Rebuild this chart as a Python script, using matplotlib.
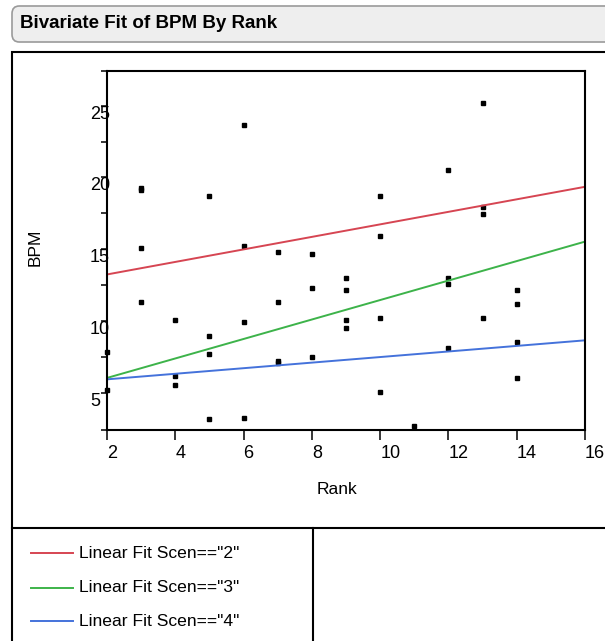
import numpy as np
import matplotlib
matplotlib.use('Agg')
from matplotlib import pyplot as plt
from matplotlib.patches import FancyBboxPatch, Rectangle
from matplotlib.lines import Line2D

plt.rcParams['font.family'] = ['Liberation Sans', 'DejaVu Sans']

# data
rank = [3, 3, 5, 6, 3, 6, 7, 8,
        13, 12, 10, 13, 13, 10,
        3, 8, 7, 4, 6, 5, 5, 7, 7, 8, 4, 4, 5, 6,
        9, 9, 9, 9, 12, 12, 14, 14, 10, 13, 12, 14, 14, 10, 11,
        2, 2]
bpm = [19.24, 19.10, 18.68, 23.65, 15.09, 15.21, 14.79, 14.67,
       25.18, 20.49, 18.68, 17.96, 17.43, 15.90,
       11.34, 12.31, 11.34, 10.09, 9.95, 8.98, 7.73, 7.22, 7.08, 7.47, 6.20, 5.53, 3.15, 3.28,
       13.00, 12.14, 10.09, 9.51, 13.00, 12.56, 12.14, 11.17, 10.23, 10.23, 8.13, 8.55, 6.06, 5.09, 2.72,
       7.87, 5.18]

fit_names = ['Linear Fit Scen=="2"', 'Linear Fit Scen=="3"', 'Linear Fit Scen=="4"']
fit_intercept = [12.37, 4.68, 5.55]
fit_slope = [0.436, 0.678, 0.194]
fit_colors = ['#d64552', '#3db34a', '#4472db']

x_ticks = [2, 4, 6, 8, 10, 12, 14, 16]
y_major = [5, 10, 15, 20, 25]
y_minor = [7.5, 12.5, 17.5, 22.5]

W, H = 605, 641
fig = plt.figure(figsize=(W / 100, H / 100), dpi=100)


def fx(x):
    return x / W


def fy(y):
    return 1 - y / H


# title bar
fig.patches.append(FancyBboxPatch((fx(12), fy(42)), fx(620) - fx(12), fy(6) - fy(42),
                                  boxstyle='round,pad=0,rounding_size=0.012',
                                  transform=fig.transFigure, facecolor='#eeeeee',
                                  edgecolor='#9a9a9a', linewidth=1.2, zorder=0))
fig.text(fx(20), fy(23), 'Bivariate Fit of BPM By Rank', fontsize=13.5, fontweight='bold',
         va='center', ha='left')

# outline of report box
fig.patches.append(Rectangle((fx(12), fy(660)), fx(620) - fx(12), fy(52) - fy(660),
                             transform=fig.transFigure, facecolor='none',
                             edgecolor='black', linewidth=1.5, zorder=0))
fig.lines.append(Line2D([fx(12), fx(620)], [fy(528), fy(528)], transform=fig.transFigure,
                        color='black', linewidth=1.5))
fig.lines.append(Line2D([fx(313), fx(313)], [fy(528), fy(660)], transform=fig.transFigure,
                        color='black', linewidth=1.5))

# plot area
ax = fig.add_axes([fx(107), fy(430), (585 - 107) / W, (430 - 71) / H])
ax.set_xlim(2, 16)
ax.set_ylim(2.41, 27.41)

ax.plot(rank, bpm, 's', color='black', markersize=2.4, zorder=2, clip_on=False)

xx = np.array([2, 16])
for b, m, c in zip(fit_intercept, fit_slope, fit_colors):
    ax.plot(xx, b + m * xx, color=c, linewidth=1.4, zorder=3)

for s in ax.spines.values():
    s.set_linewidth(1.5)
    s.set_zorder(5)

ax.set_xticks(x_ticks)
ax.set_xticklabels([str(t) for t in x_ticks], fontsize=13)
for lbl in ax.get_xticklabels():
    lbl.set_horizontalalignment('left')
ax.tick_params(axis='x', direction='out', length=7.5, width=1.1, pad=3)

ax.set_yticks(y_major + y_minor + [2.41, 27.41])
ax.set_yticklabels([])
ax.tick_params(axis='y', direction='out', length=4.3, width=1.1)
for v in y_major:
    ax.text(-0.0356, v, str(v), transform=ax.get_yaxis_transform(), ha='left', va='top',
            fontsize=13, zorder=1, clip_on=False)

fig.text(fx(337), fy(490), 'Rank', fontsize=12.5, ha='center', va='center')
fig.text(fx(35), fy(247), 'BPM', fontsize=12.5, ha='center', va='center', rotation=90)

# legend
leg_y = [553, 588, 621]
for name, c, y in zip(fit_names, fit_colors, leg_y):
    fig.lines.append(Line2D([fx(31), fx(73)], [fy(y), fy(y)], transform=fig.transFigure,
                            color=c, linewidth=1.4))
    fig.text(fx(79), fy(y), name, fontsize=12.6, ha='left', va='center')

fig.savefig('out.png', dpi=100)
